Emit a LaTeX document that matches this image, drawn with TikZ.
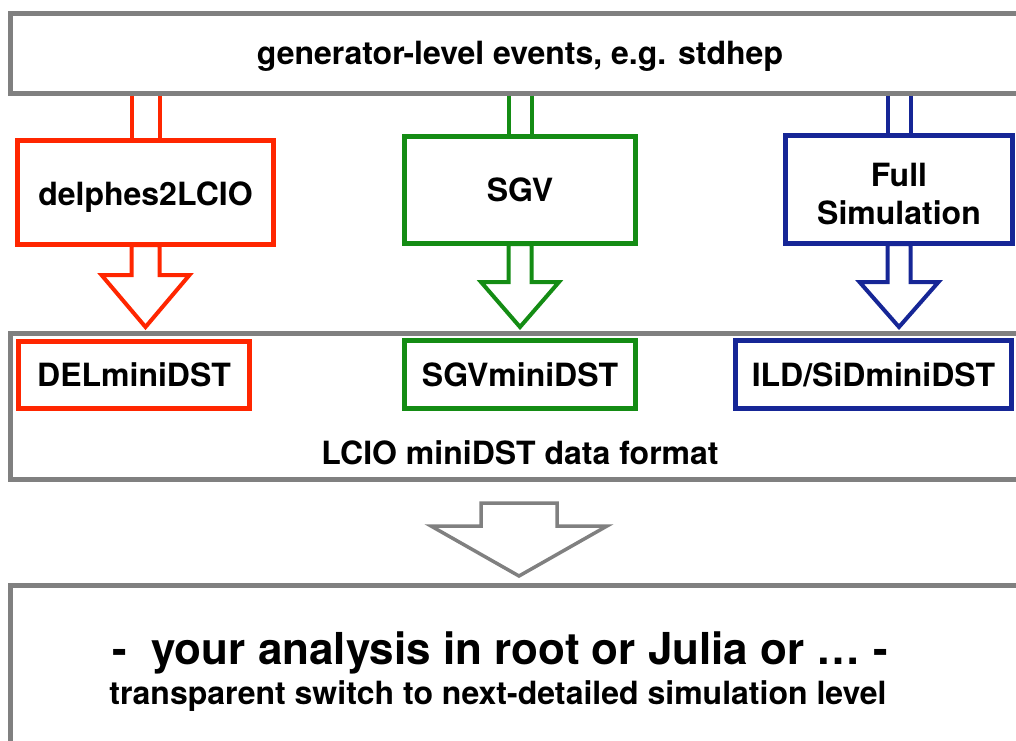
\documentclass[tikz,border=0pt]{standalone}
\usepackage{fontspec}
\setmainfont{TeX Gyre Heros}
\usetikzlibrary{calc}
\definecolor{delred}{RGB}{255,38,0}
\definecolor{sgvgreen}{RGB}{20,140,20}
\definecolor{fullblue}{RGB}{22,38,150}
\definecolor{framegray}{RGB}{128,128,128}
% hollow block arrow: [style](tail)(tip)(shaft half:head half:head length)
\def\hollowarrow[#1](#2)(#3)(#4:#5:#6){\draw[#1] let \p1=(#2), \p2=(#3) in (\x2-#4,\y1) -- (\x2-#4,\y2+#6) -- (\x2-#5,\y2+#6) -- (\x2,\y2) -- (\x2+#5,\y2+#6) -- (\x2+#4,\y2+#6) -- (\x2+#4,\y1) -- cycle;}
% open shaft between two boxes: [style](upper box)(lower box)(shaft half)
\def\openshaft[#1](#2)(#3)(#4){\draw[#1] let \p1=(#2), \p2=(#3) in (\x2-#4,\y1) -- (\x2-#4,\y2) (\x2+#4,\y1) -- (\x2+#4,\y2);}

\begin{document}
\begin{tikzpicture}[x=1pt, y=-1pt, line join=miter,
    frame/.style={draw=framegray, line width=5pt, fill=white, inner sep=0pt},
    stage/.style={draw=#1, line width=5pt, fill=white, inner sep=0pt, text depth=0pt, align=center, font=\fontsize{32}{38}\selectfont\bfseries},
    plaintext/.style={inner sep=0pt, text depth=0pt, font=\fontsize{32}{38}\selectfont\bfseries}]
		%%%%% START %%%%%
		\useasboundingbox (0,0) rectangle (1016,740);
		
		% generator level
		\node[frame, minimum width=1019pt, minimum height=80pt, text depth=0pt, font=\fontsize{32}{38}\selectfont\bfseries] (gen) at (520,53) {generator-level events, e.g. stdhep};
		
		% simulation stages
		\node[stage=delred, minimum width=256pt, minimum height=104pt, text height=26pt] (delbox) at (145.5,192.5) {delphes2LCIO};
		\node[stage=sgvgreen, minimum width=231pt, minimum height=107pt] (sgvbox) at (520,190) {SGV};
		\node[stage=fullblue, minimum width=227.5pt, minimum height=108pt, text height=69pt] (fullbox) at (899,189.5) {Full\\Simulation};
		
		% miniDST level
		\node[frame, minimum width=1019pt, minimum height=146pt] (midbox) at (520,406.5) {};
		\node[plaintext] (fmt) at (520,453) {LCIO miniDST data format};
		\node[stage=delred, minimum width=231pt, minimum height=67pt] (delmini) at (134,375) {DELminiDST};
		\node[stage=sgvgreen, minimum width=231pt, minimum height=68pt] (sgvmini) at (520,374.5) {SGVminiDST};
		\node[stage=fullblue, minimum width=276pt, minimum height=68pt] (ildmini) at (873.5,374.5) {ILD/SiDminiDST};
		
		% analysis
		\node[frame, minimum width=1019pt, minimum height=414.5pt] (ana) at (520,792.75) {};
		\node[plaintext, font=\fontsize{44}{52}\selectfont\bfseries] (anatext) at (500,648) {-~~your analysis in root or Julia or \dots\ -};
		\node[plaintext] (switch) at (498,693) {transparent switch to next-detailed simulation level};
		
		% arrows
		\openshaft[delred, line width=4pt](gen.south)(delbox.north)(14pt)
		\openshaft[sgvgreen, line width=4pt](gen.south)(sgvbox.north)(11.5pt)
		\openshaft[fullblue, line width=4pt](gen.south)(fullbox.north)(11.5pt)
		
		\coordinate (deltail) at ($(delbox.south)+(0,-2)$);
		\coordinate (deltip) at ($(delbox |- midbox.north)+(0,-4)$);
		\coordinate (sgvtail) at ($(sgvbox.south)+(0,-2)$);
		\coordinate (sgvtip) at ($(sgvbox |- midbox.north)+(0,-4)$);
		\coordinate (fulltail) at ($(fullbox.south)+(0,-2)$);
		\coordinate (fulltip) at ($(fullbox |- midbox.north)+(0,-4)$);
		\hollowarrow[delred, line width=4pt](deltail)(deltip)(14pt:44pt:52pt)
		\hollowarrow[sgvgreen, line width=4pt](sgvtail)(sgvtip)(11.5pt:39pt:45pt)
		\hollowarrow[fullblue, line width=4pt](fulltail)(fulltip)(11.5pt:39.5pt:45pt)
		
		\coordinate (anatail) at ($(midbox.south)+(-1,21)$);
		\coordinate (anatip) at ($(midbox.south |- ana.north)+(-1,-7)$);
		\hollowarrow[framegray, line width=3.5pt](anatail)(anatip)(38pt:88pt:50pt)
		%%%%% END %%%%%
\end{tikzpicture}
\end{document}
